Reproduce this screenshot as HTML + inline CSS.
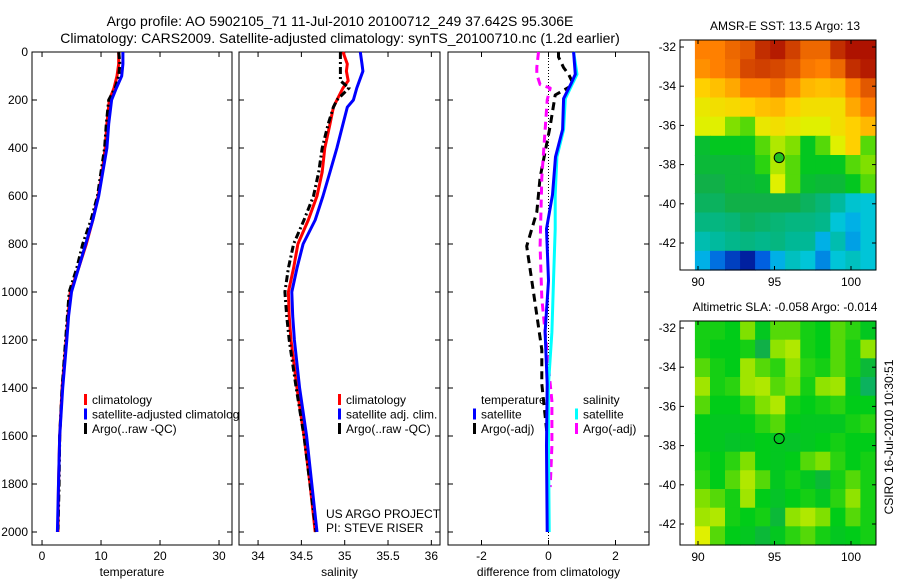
<!DOCTYPE html>
<html><head><meta charset="utf-8"><style>
body{margin:0;background:#fff}
svg{display:block;font-family:"Liberation Sans",sans-serif}
text{font-size:12px;fill:#000}
</style></head><body>
<svg id="c" width="900" height="580" viewBox="0 0 900 580">
<rect width="900" height="580" fill="#fff"/>
<text x="340" y="26" text-anchor="middle" style="font-size:14px">Argo profile: AO 5902105_71 11-Jul-2010 20100712_249 37.642S 95.306E</text>
<text x="340" y="43" text-anchor="middle" style="font-size:14px">Climatology: CARS2009. Satellite-adjusted climatology: synTS_20100710.nc (1.2d earlier)</text>
<g id="g"></g>
</svg>
<script>
const depthTicks=[0,200,400,600,800,1000,1200,1400,1600,1800,2000];
const tempTicks=[0,10,20,30];
const salTicks=[34,34.5,35,35.5,36];
const diffTicks=[-2,0,2];
// temperature panel
const tClimDepth=[0,50,100,150,200,300,400,500,600,700,800,900,1000,1100,1200,1400,1600,1800,2000];
const tClim=[13.0,13.0,12.7,12.2,11.4,11.0,10.7,10.2,9.5,8.6,7.5,6.2,4.8,4.4,4.1,3.4,3.0,2.8,2.7];
const tSat=[13.7,13.7,13.5,12.6,11.8,11.3,11.0,10.3,9.6,8.6,7.4,6.2,5.0,4.5,4.2,3.5,3.0,2.8,2.6];
const tArgoDepth=[0,50,100,150,200,300,400,500,600,700,800,900,1000,1100,1200,1400,1600,1800,1990];
const tArgo=[13.0,13.2,13.0,12.4,11.3,10.9,10.6,10.0,9.4,8.3,6.9,5.9,4.6,4.3,4.0,3.4,3.0,2.9,2.7];
// salinity panel
const sDepth=[0,50,80,120,150,200,230,300,400,500,600,700,800,900,1000,1100,1200,1400,1600,1800,2000];
const sClim=[34.98,35.03,35.02,35.04,34.98,34.91,34.87,34.83,34.77,34.74,34.68,34.58,34.46,34.41,34.35,34.36,34.38,34.45,34.53,34.60,34.66];
const sSat=[35.18,35.2,35.21,35.17,35.14,35.10,35.03,34.98,34.91,34.83,34.75,34.66,34.52,34.45,34.39,34.40,34.42,34.48,34.56,34.62,34.68];
const sArgo=[34.95,34.95,34.95,34.95,35.05,34.91,34.87,34.81,34.74,34.70,34.64,34.53,34.41,34.35,34.31,34.33,34.36,34.44,34.53,34.60,34.67];
// difference panel
const dSatDepth=[0,93,136,194,323,437,595,737,953,1167,1383,1641,2000];
const dTempSat=[0.75,0.8,0.66,0.45,0.42,0.21,0.12,-0.06,0,-0.1,-0.04,-0.06,-0.04];
const dSalSat=[0.75,0.85,0.7,0.5,0.45,0.25,0.2,0.2,0.15,0.1,0.0,0.0,0.02];
const dArgoDepth=[0,21,65,93,136,179,308,523,667,809,953,1096,1240,1383,1583];
const dTempArgo=[0.3,0.3,0.45,0.6,0.75,0.2,0.05,-0.25,-0.35,-0.65,-0.5,-0.35,-0.2,-0.2,-0.05];
const dSalArgoDepth=[0,65,93,136,150,200,523,809,1025,1240,1455,1641,1813];
const dSalArgo=[-0.3,-0.35,-0.35,-0.25,0.05,-0.04,-0.2,-0.25,-0.2,-0.05,0.1,0.1,0.05];
// maps
const lonTicks=[90,95,100];
const latTicks=[-32,-34,-36,-38,-40,-42];
const sstGrid=[
[0.85,0.85,0.88,0.9,0.95,0.97,0.93,0.88,0.88,0.95,0.98,0.98],
[0.83,0.85,0.87,0.92,0.93,0.92,0.9,0.86,0.85,0.88,0.95,0.97],
[0.75,0.77,0.8,0.85,0.85,0.87,0.83,0.78,0.77,0.78,0.85,0.9],
[0.7,0.72,0.73,0.75,0.77,0.78,0.75,0.72,0.72,0.72,0.8,0.85],
[0.68,0.68,0.62,0.6,0.7,0.72,0.7,0.68,0.68,0.72,0.75,0.78],
[0.53,0.55,0.55,0.55,0.6,0.65,0.62,0.55,0.6,0.68,0.75,0.6],
[0.52,0.52,0.52,0.53,0.58,0.65,0.6,0.55,0.55,0.55,0.6,0.62],
[0.5,0.5,0.52,0.52,0.53,0.68,0.6,0.53,0.52,0.52,0.55,0.6],
[0.48,0.48,0.5,0.5,0.5,0.5,0.5,0.48,0.46,0.42,0.36,0.35],
[0.45,0.45,0.46,0.48,0.47,0.46,0.45,0.45,0.44,0.35,0.3,0.35],
[0.4,0.42,0.44,0.45,0.44,0.45,0.43,0.43,0.3,0.4,0.28,0.35],
[0.3,0.22,0.15,0.1,0.2,0.3,0.38,0.35,0.25,0.35,0.38,0.35]];
const slaGrid=[
[0.57,0.57,0.56,0.62,0.55,0.6,0.6,0.57,0.56,0.6,0.58,0.55],
[0.57,0.56,0.56,0.57,0.5,0.63,0.65,0.57,0.56,0.6,0.57,0.63],
[0.6,0.57,0.56,0.64,0.6,0.58,0.63,0.58,0.57,0.6,0.57,0.52],
[0.64,0.57,0.58,0.64,0.65,0.6,0.62,0.57,0.63,0.64,0.55,0.48],
[0.6,0.56,0.56,0.58,0.62,0.65,0.57,0.56,0.57,0.58,0.56,0.56],
[0.56,0.55,0.55,0.56,0.58,0.6,0.56,0.55,0.55,0.55,0.57,0.58],
[0.56,0.55,0.54,0.55,0.56,0.55,0.54,0.55,0.56,0.57,0.56,0.56],
[0.57,0.56,0.58,0.62,0.56,0.55,0.56,0.6,0.62,0.58,0.56,0.57],
[0.58,0.56,0.6,0.65,0.6,0.55,0.57,0.55,0.52,0.57,0.6,0.57],
[0.62,0.6,0.57,0.64,0.56,0.54,0.56,0.57,0.55,0.58,0.63,0.57],
[0.64,0.65,0.57,0.56,0.57,0.52,0.63,0.65,0.62,0.56,0.6,0.57],
[0.68,0.6,0.56,0.55,0.52,0.55,0.58,0.6,0.57,0.55,0.56,0.57]];
const argoLon=95.306, argoLat=-37.642;

const NS='http://www.w3.org/2000/svg';
const G=document.getElementById('g');
function mk(tag,attrs,parent){const e=document.createElementNS(NS,tag);for(const k in attrs)e.setAttribute(k,attrs[k]);(parent||G).appendChild(e);return e;}
function txt(x,y,s,anchor,parent){const t=mk('text',{x:x,y:y,'text-anchor':anchor||'start'},parent);t.textContent=s;return t;}

const Y0=52,YB=545; const yD=d=>Y0+d*0.24;
function panel(name,x0,x1,vmin,vmax,xt,xlabel,showY){
  const g=mk('g',{});
  
  
  const sx=v=>x0+(v-vmin)/(vmax-vmin)*(x1-x0);
  const r=mk('rect',{x:x0,y:Y0,width:x1-x0,height:YB-Y0,fill:'none',stroke:'#000','stroke-width':1},g);
  
  
  depthTicks.forEach(d=>{const y=yD(d);
    mk('line',{x1:x0,x2:x0+5,y1:y,y2:y,stroke:'#000'},g);
    mk('line',{x1:x1,x2:x1-5,y1:y,y2:y,stroke:'#000'},g);
    if(showY){const t=txt(x0-4,y+4,String(d),'end',g);
      
      }
  });
  xt.forEach(v=>{const x=sx(v);
    mk('line',{x1:x,x2:x,y1:YB,y2:YB-5,stroke:'#000'},g);
    mk('line',{x1:x,x2:x,y1:Y0,y2:Y0+5,stroke:'#000'},g);
    const t=txt(x,560,String(v),'middle',g);
    
    
  });
  const xl=txt((x0+x1)/2,576,xlabel,'middle',g);
  
  
  return {g,sx};
}
function series(p,depths,vals,color,dash,nm){
  const pts=depths.map((d,i)=>p.sx(vals[i]).toFixed(1)+','+yD(d).toFixed(1)).join(' ');
  const a={points:pts,fill:'none',stroke:color,'stroke-width':3,'stroke-linejoin':'round'};
  if(dash)a['stroke-dasharray']=dash;
  const l=mk('polyline',a,p.g);
  
  
}
function legend(p,x,y,items){
  items.forEach((it,i)=>{
    const yy=y+i*14.5;
    if(it.c){const b=mk('rect',{x:x,y:yy-10,width:3,height:11,fill:it.c},p.g);
      
      }
    const t=txt(x+8,yy,it.t,'start',p.g);
    
    
  });
}
// clip for panel 1 legend overflow
const cp=mk('clipPath',{id:'cp1'});mk('rect',{x:0,y:0,width:239,height:580},cp);

const p1=panel('temperature-panel',32,232,-1.7,32.2,tempTicks,'temperature',true);
series(p1,tClimDepth,tClim,'#ff0000',null,'temperature-climatology-line');
series(p1,tArgoDepth,tArgo,'#000000','7,3,2,3','temperature-argo-line');
series(p1,tClimDepth,tSat,'#0000ff',null,'temperature-satellite-line');
const lg1=mk('g',{'clip-path':'url(#cp1)'},p1.g);
legend({g:lg1},84,404,[{t:'climatology',c:'#f00'},{t:'satellite-adjusted climatology',c:'#00f'},{t:'Argo(..raw -QC)',c:'#000'}]);

const p2=panel('salinity-panel',239,440,33.78,36.1,salTicks,'salinity',false);
series(p2,sDepth,sClim,'#ff0000',null,'salinity-climatology-line');
series(p2,sDepth,sArgo,'#000000','7,3,2,3','salinity-argo-line');
series(p2,sDepth,sSat,'#0000ff',null,'salinity-satellite-line');
legend(p2,338,404,[{t:'climatology',c:'#f00'},{t:'satellite adj. clim.',c:'#00f'},{t:'Argo(..raw -QC)',c:'#000'}]);
const u1=txt(326,518,'US ARGO PROJECT','start',p2.g);


const u2=txt(326,532,'PI: STEVE RISER','start',p2.g);



const p3=panel('difference-panel',448,649,-3,3,diffTicks,'difference from climatology',false);
const zl=mk('line',{x1:p3.sx(0),x2:p3.sx(0),y1:Y0,y2:YB,stroke:'#000','stroke-dasharray':'1,2'},p3.g);


series(p3,dArgoDepth,dTempArgo,'#000000','8,5','temp-argo-diff-line');
series(p3,dSalArgoDepth,dSalArgo,'#ff00ff','8,5','sal-argo-diff-line');
series(p3,dSatDepth,dSalSat,'#00ffff',null,'sal-satellite-diff-line');
series(p3,dSatDepth,dTempSat,'#0000ff',null,'temp-satellite-diff-line');
legend(p3,473,404,[{t:'temperature'},{t:'satellite',c:'#00f'},{t:'Argo(-adj)',c:'#000'}]);
legend(p3,575,404,[{t:'salinity'},{t:'satellite',c:'#0ff'},{t:'Argo(-adj)',c:'#f0f'}]);

// colormap
const stops=[[0,[0,16,128]],[0.1,[0,32,160]],[0.2,[0,96,224]],[0.33,[0,200,232]],[0.43,[0,184,150]],[0.5,[16,176,72]],[0.56,[0,204,24]],[0.62,[128,224,0]],[0.68,[224,240,0]],[0.75,[255,208,0]],[0.85,[255,128,0]],[0.93,[208,64,0]],[1,[160,0,0]]];
function cmap(v){for(let i=1;i<stops.length;i++){if(v<=stops[i][0]){const a=stops[i-1],b=stops[i],t=(v-a[0])/(b[0]-a[0]);const c=a[1].map((x,k)=>Math.round(x+(b[1][k]-x)*t));return 'rgb('+c+')';}}return 'rgb(160,0,0)';}

function map(name,top,bottom,grid,title,circFill){
  const g=mk('g',{});
  
  
  const L=680,R=876;
  const lx=lon=>698+(lon-90)*15.3;
  const ly=lat=>top+7+(-32-lat)*19.6;
  const lonMin=89.8,lonMax=101.6,latTop=-32+(-(7)/19.6)*-1,latBot=-32-(bottom-top-7)/19.6;
  const nr=grid.length,nc=grid[0].length;
  const cw=(lonMax-lonMin)/nc, ch=(latTop-latBot)/nr;
  grid.forEach((row,i)=>row.forEach((v,j)=>{
    const x=lx(lonMin+j*cw), y=ly(latTop-i*ch);
    const c=mk('rect',{x:x.toFixed(1),y:y.toFixed(1),width:(cw*15.3+0.6).toFixed(1),height:(ch*19.6+0.6).toFixed(1),fill:cmap(v)},g);
    
    
  }));
  const f=mk('rect',{x:L,y:top,width:R-L,height:bottom-top,fill:'none',stroke:'#000'},g);
  
  
  latTicks.forEach(lat=>{const y=ly(lat);
    mk('line',{x1:L,x2:L+4,y1:y,y2:y,stroke:'#000'},g);mk('line',{x1:R,x2:R-4,y1:y,y2:y,stroke:'#000'},g);
    const t=txt(L-4,y+4,String(lat),'end',g);
    
    });
  lonTicks.forEach(lon=>{const x=lx(lon);
    mk('line',{x1:x,x2:x,y1:bottom,y2:bottom-4,stroke:'#000'},g);mk('line',{x1:x,x2:x,y1:top,y2:top+4,stroke:'#000'},g);
    const t=txt(x,bottom+16,String(lon),'middle',g);
    
    });
  const tt=txt(785,top-10,title,'middle',g);
  
  
  const m=mk('circle',{cx:lx(argoLon),cy:ly(argoLat),r:5,fill:circFill,stroke:'#000'},g);
  
  
}
map('sst-map',40,270,sstGrid,'AMSR-E SST: 13.5 Argo: 13','#20c020');
map('sla-map',321,545,slaGrid,'Altimetric SLA: -0.058 Argo: -0.014','none');
const cs=txt(0,0,'CSIRO 16-Jul-2010 10:30:51','middle');
cs.setAttribute('transform','translate(893,437) rotate(-90)');


</script>
</body></html>
